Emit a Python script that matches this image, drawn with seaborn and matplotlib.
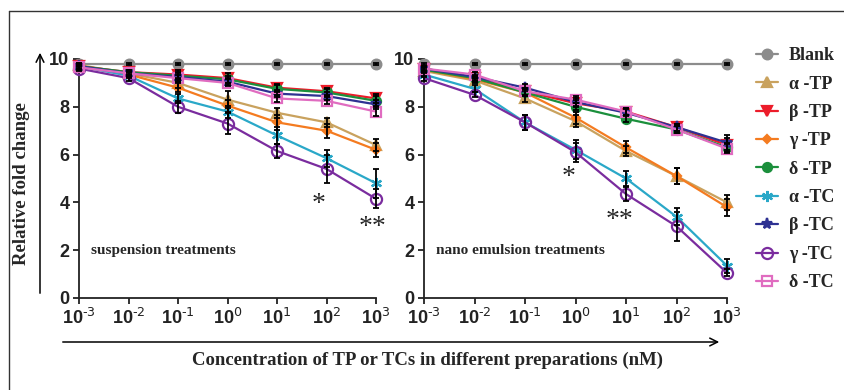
# Relative fold change vs concentration: suspension vs nano emulsion treatments
import numpy as np
import pandas as pd
import matplotlib
matplotlib.use("Agg")
import matplotlib.pyplot as plt
import seaborn as sns
from matplotlib.lines import Line2D

# ---- data ----
conc = [1e-3, 1e-2, 1e-1, 1e0, 1e1, 1e2, 1e3]
conc_labels = ["10$^{\\text{-3}}$", "10$^{\\text{-2}}$", "10$^{\\text{-1}}$", "10$^{0}$",
               "10$^{1}$", "10$^{2}$", "10$^{3}$"]
series = ["Blank", "α -TP", "β -TP", "γ -TP", "δ -TP", "α -TC", "β -TC", "γ -TC", "δ -TC"]

# suspension treatments
susp_blank = [9.8, 9.8, 9.8, 9.8, 9.8, 9.8, 9.8]
susp_aTP = [9.75, 9.4, 9.0, 8.3, 7.75, 7.35, 6.4]
susp_bTP = [9.7, 9.45, 9.35, 9.2, 8.8, 8.65, 8.35]
susp_gTP = [9.7, 9.35, 8.8, 8.05, 7.35, 7.0, 6.2]
susp_dTP = [9.7, 9.45, 9.3, 9.15, 8.75, 8.6, 8.25]
susp_aTC = [9.7, 9.3, 8.35, 7.8, 6.8, 5.85, 4.8]
susp_bTC = [9.7, 9.4, 9.25, 9.05, 8.55, 8.45, 8.1]
susp_gTC = [9.6, 9.2, 8.0, 7.3, 6.15, 5.4, 4.15]
susp_dTC = [9.65, 9.4, 9.2, 9.0, 8.35, 8.25, 7.8]

susp_err_blank = [0.05, 0.05, 0.05, 0.05, 0.05, 0.05, 0.05]
susp_err_aTP = [0.1, 0.1, 0.2, 0.35, 0.2, 0.2, 0.25]
susp_err_bTP = [0.1, 0.1, 0.2, 0.2, 0.15, 0.15, 0.2]
susp_err_gTP = [0.1, 0.1, 0.2, 0.25, 0.3, 0.3, 0.3]
susp_err_dTP = [0.1, 0.1, 0.15, 0.15, 0.15, 0.15, 0.2]
susp_err_aTC = [0.1, 0.1, 0.2, 0.25, 0.35, 0.35, 0.6]
susp_err_bTC = [0.1, 0.1, 0.15, 0.15, 0.15, 0.15, 0.2]
susp_err_gTC = [0.1, 0.1, 0.25, 0.45, 0.3, 0.6, 0.4]
susp_err_dTC = [0.1, 0.1, 0.15, 0.15, 0.15, 0.15, 0.2]

# nano emulsion treatments
nano_blank = [9.8, 9.8, 9.8, 9.8, 9.8, 9.8, 9.8]
nano_aTP = [9.5, 9.1, 8.35, 7.4, 6.15, 5.1, 4.0]
nano_bTP = [9.6, 9.2, 8.65, 8.15, 7.8, 7.15, 6.4]
nano_gTP = [9.55, 9.15, 8.6, 7.55, 6.3, 5.1, 3.8]
nano_dTP = [9.55, 9.2, 8.6, 8.0, 7.5, 7.05, 6.3]
nano_aTC = [9.35, 8.75, 7.35, 6.2, 5.0, 3.4, 1.35]
nano_bTC = [9.6, 9.25, 8.8, 8.2, 7.75, 7.15, 6.5]
nano_gTC = [9.2, 8.5, 7.35, 6.1, 4.35, 3.0, 1.05]
nano_dTC = [9.6, 9.35, 8.65, 8.3, 7.8, 7.05, 6.25]

nano_err_blank = [0.05, 0.05, 0.05, 0.05, 0.05, 0.05, 0.05]
nano_err_aTP = [0.1, 0.1, 0.15, 0.25, 0.2, 0.35, 0.3]
nano_err_bTP = [0.1, 0.1, 0.15, 0.15, 0.15, 0.15, 0.3]
nano_err_gTP = [0.1, 0.1, 0.15, 0.25, 0.25, 0.35, 0.35]
nano_err_dTP = [0.1, 0.1, 0.15, 0.15, 0.15, 0.15, 0.2]
nano_err_aTC = [0.1, 0.15, 0.3, 0.4, 0.3, 0.35, 0.3]
nano_err_bTC = [0.1, 0.1, 0.15, 0.15, 0.15, 0.15, 0.3]
nano_err_gTC = [0.1, 0.1, 0.3, 0.4, 0.3, 0.6, 0.15]
nano_err_dTC = [0.1, 0.1, 0.15, 0.15, 0.15, 0.15, 0.2]

susp_vals = [susp_blank, susp_aTP, susp_bTP, susp_gTP, susp_dTP, susp_aTC, susp_bTC, susp_gTC, susp_dTC]
susp_errs = [susp_err_blank, susp_err_aTP, susp_err_bTP, susp_err_gTP, susp_err_dTP,
             susp_err_aTC, susp_err_bTC, susp_err_gTC, susp_err_dTC]
nano_vals = [nano_blank, nano_aTP, nano_bTP, nano_gTP, nano_dTP, nano_aTC, nano_bTC, nano_gTC, nano_dTC]
nano_errs = [nano_err_blank, nano_err_aTP, nano_err_bTP, nano_err_gTP, nano_err_dTP,
             nano_err_aTC, nano_err_bTC, nano_err_gTC, nano_err_dTC]

# ---- styles ----
colors = ["#8c8c8c", "#c9a25e", "#ec1c2a", "#f47b20", "#1b8f3c",
          "#2aa8c8", "#2e3192", "#7a2c9e", "#e06cc0"]
markers = ["o", "^", "v", "D", "o", (6, 2, 0), "*", "o", "s"]
msizes = [7, 7, 7, 4.5, 6.5, 8, 8, 8, 7]
filled = [True, True, True, True, True, True, True, False, False]

sns.set_style("ticks")
plt.rcParams["mathtext.fontset"] = "custom"
plt.rcParams["mathtext.rm"] = "Liberation Sans Narrow"
plt.rcParams["mathtext.default"] = "rm"
plt.rcParams["font.family"] = ["Liberation Sans Narrow", "Liberation Sans"]

fig = plt.figure(figsize=(8.44, 3.9), dpi=100)
ax1 = fig.add_axes([79 / 844, 92 / 390, 297 / 844, 239 / 390])
ax2 = fig.add_axes([424 / 844, 92 / 390, 303 / 844, 239 / 390])

serif_bold = dict(family="Liberation Serif", weight="bold")

def draw_panel(ax, vals, errs, note):
    for i, name in enumerate(series):
        df = pd.DataFrame({"conc": conc, "value": vals[i]})
        sns.lineplot(data=df, x="conc", y="value", ax=ax, color=colors[i], lw=1.6,
                     marker=markers[i], markersize=msizes[i],
                     markerfacecolor=colors[i] if filled[i] else "none",
                     markeredgecolor=colors[i], markeredgewidth=1.6,
                     clip_on=False, zorder=3 + i * 0.01, legend=False)
        ax.errorbar(conc, vals[i], yerr=errs[i], fmt="none", ecolor="black",
                    elinewidth=1.3, capsize=2, capthick=1.3, clip_on=False, zorder=4)
    ax.set_xscale("log")
    ax.set_xlim(1e-3, 1e3)
    ax.set_ylim(0, 10)
    ax.set_xticks(conc)
    ax.set_xticklabels(conc_labels)
    ax.minorticks_off()
    ax.set_yticks([0, 2, 4, 6, 8, 10])
    ax.set_yticklabels(["0", "2", "4", "6", "8", "10"])
    ax.tick_params(axis="both", labelsize=13, width=1.3, length=4, color="#222222",
                   labelcolor="#222222", pad=3)
    for lab in ax.get_xticklabels() + ax.get_yticklabels():
        lab.set_fontweight("bold")
    for side in ["left", "bottom"]:
        ax.spines[side].set_linewidth(1.3)
        ax.spines[side].set_color("#222222")
    sns.despine(ax=ax)
    ax.set_xlabel("")
    ax.set_ylabel("")
    ax.text(0.04, 0.185, note, transform=ax.transAxes, fontsize=11, **serif_bold)

draw_panel(ax1, susp_vals, susp_errs, "suspension treatments")
draw_panel(ax2, nano_vals, nano_errs, "nano emulsion treatments")

# significance marks
star_font = dict(ha="center", va="center", fontsize=20, family="Liberation Serif")
ax1.text(10 ** 1.83, 3.9, "*", **star_font)
ax1.text(10 ** 2.93, 2.95, "**", **star_font)
ax2.text(10 ** -0.14, 5.05, "*", **star_font)
ax2.text(10 ** 0.87, 3.25, "**", **star_font)

# legend
handles = [Line2D([0], [0], color=colors[i], lw=1.6, marker=markers[i], markersize=msizes[i],
                  markerfacecolor=colors[i] if filled[i] else "none",
                  markeredgecolor=colors[i], markeredgewidth=1.6) for i in range(len(series))]
fig.legend(handles, series, loc="upper left", bbox_to_anchor=(749 / 844, 1 - 40 / 390),
           frameon=False, prop=dict(family="Liberation Serif", weight="bold", size=13),
           handlelength=1.2, handletextpad=0.6, labelspacing=0.63, borderaxespad=0)

# axis labels and arrows
fig.text(22 / 844, 1 - 184 / 390, "Relative fold change", rotation=90, ha="center", va="center",
         fontsize=13.5, **serif_bold)
fig.text(427 / 844, 1 - 360 / 390, "Concentration of TP or TCs in different preparations (nM)",
         ha="center", va="center", fontsize=13.5, **serif_bold)
fig.add_artist(matplotlib.patches.FancyArrowPatch((40 / 844, 1 - 296 / 390), (40 / 844, 1 - 50 / 390),
               transform=fig.transFigure, arrowstyle="->", mutation_scale=14, lw=1.1, color="black"))
fig.add_artist(matplotlib.patches.FancyArrowPatch((60 / 844, 1 - 342 / 390), (722 / 844, 1 - 342 / 390),
               transform=fig.transFigure, arrowstyle="->", mutation_scale=14, lw=1.1, color="black"))

# thin frame on top and left
fig.add_artist(Line2D([9 / 844, 9 / 844], [0, 1 - 11 / 390], transform=fig.transFigure, color="#333333", lw=1))
fig.add_artist(Line2D([9 / 844, 1], [1 - 11 / 390, 1 - 11 / 390], transform=fig.transFigure, color="#333333", lw=1))

fig.savefig("out.png", dpi=100)
